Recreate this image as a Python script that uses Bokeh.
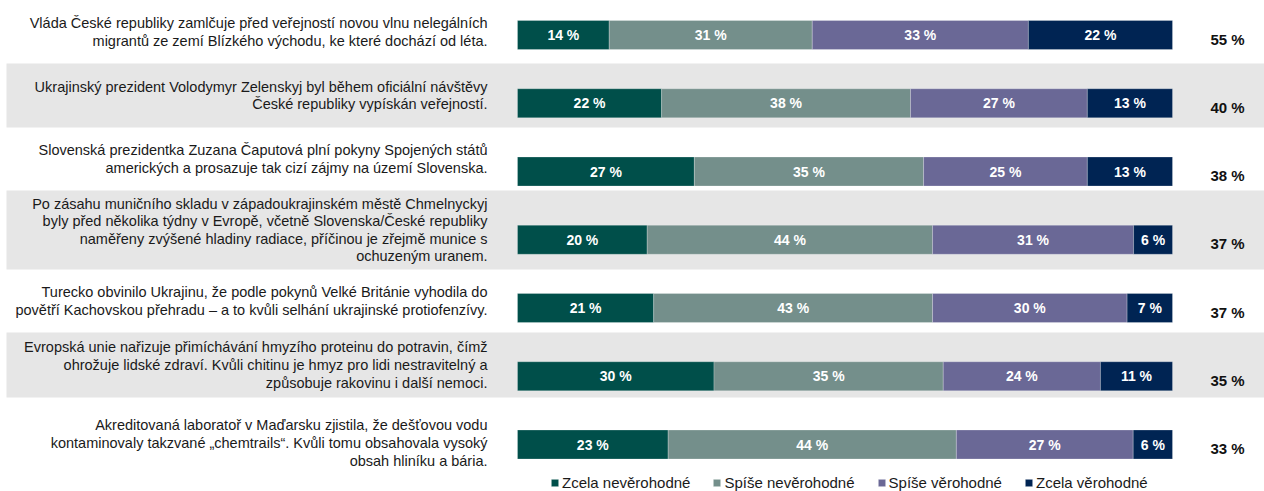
from bokeh.plotting import figure
from bokeh.models import Range1d, Legend, LegendItem
from bokeh.core.properties import value
from bokeh.embed import file_html
from bokeh.resources import INLINE

# ---------------- data ----------------
statements = [
    "Vláda České republiky zamlčuje před veřejností novou vlnu nelegálních\nmigrantů ze zemí Blízkého východu, ke které dochází od léta.",
    "Ukrajinský prezident Volodymyr Zelenskyj byl během oficiální návštěvy\nČeské republiky vypískán veřejností.",
    "Slovenská prezidentka Zuzana Čaputová plní pokyny Spojených států\namerických a prosazuje tak cizí zájmy na území Slovenska.",
    "Po zásahu muničního skladu v západoukrajinském městě Chmelnyckyj\nbyly před několika týdny v Evropě, včetně Slovenska/České republiky\nnaměřeny zvýšené hladiny radiace, příčinou je zřejmě munice s\nochuzeným uranem.",
    "Turecko obvinilo Ukrajinu, že podle pokynů Velké Británie vyhodila do\npovětří Kachovskou přehradu – a to kvůli selhání ukrajinské protiofenzívy.",
    "Evropská unie nařizuje přimíchávání hmyzího proteinu do potravin, čímž\nohrožuje lidské zdraví. Kvůli chitinu je hmyz pro lidi nestravitelný a\nzpůsobuje rakovinu i další nemoci.",
    "Akreditovaná laboratoř v Maďarsku zjistila, že dešťovou vodu\nkontaminovaly takzvané „chemtrails“. Kvůli tomu obsahovala vysoký\nobsah hliníku a bária.",
]
categories = ["Zcela nevěrohodné", "Spíše nevěrohodné", "Spíše věrohodné", "Zcela věrohodné"]
zcela_neverohodne = [14, 22, 27, 20, 21, 30, 23]
spise_neverohodne = [31, 38, 35, 44, 43, 35, 44]
spise_verohodne = [33, 27, 25, 31, 30, 24, 27]
zcela_verohodne = [22, 13, 13, 6, 7, 11, 6]
celkem_verohodne = [55, 40, 38, 37, 37, 35, 33]

series = [zcela_neverohodne, spise_neverohodne, spise_verohodne, zcela_verohodne]
colors = ["#004F4A", "#748F8B", "#6A6896", "#002453"]

# ---------------- layout constants ----------------
W, H = 1264, 491
PX_PER_PCT = 6.55          # horizontal scale
BAR_LEFT = 517             # pixel where bars start
ROW_PX = 68.25             # vertical spacing of the bars
ROW0_PX = 34.5             # pixel of first bar centre
BAND_PX = [63, 64, 63, 79, 63, 65, 91]   # heights of the table cells
BAR_H = 29 / ROW_PX

x_start = -BAR_LEFT / PX_PER_PCT
x_end = (W - BAR_LEFT) / PX_PER_PCT
y_top = -ROW0_PX / ROW_PX
y_bot = (H - ROW0_PX) / ROW_PX


def px2x(px):
    return (px - BAR_LEFT) / PX_PER_PCT


def px2y(px_from_top):
    return (px_from_top - ROW0_PX) / ROW_PX


p = figure(width=W, height=H, x_range=Range1d(x_start, x_end), y_range=Range1d(y_bot, y_top),
           output_backend="svg", toolbar_location=None, x_axis_type=None, y_axis_type=None,
           min_border=0, outline_line_color=None, background_fill_color="white")
p.grid.visible = False

# table cell bands
n = len(statements)
tops, bots, centers = [], [], []
acc = 0
for h in BAND_PX:
    tops.append(px2y(acc))
    bots.append(px2y(acc + h))
    centers.append(px2y(acc + h / 2))
    acc += h
band_idx = [i for i in range(n) if i % 2 == 1]
p.quad(left=px2x(6), right=x_end, top=[tops[i] for i in band_idx], bottom=[bots[i] for i in band_idx],
       fill_color="#E6E6E6", line_color=None)

# stacked bars
rows = list(range(n))
totals = [sum(s[i] for s in series) for i in rows]
lefts = [0.0] * n
renderers = []
lab_x, lab_y, lab_t = [], [], []
for s, c in zip(series, colors):
    widths = [s[i] * 100.0 / totals[i] for i in rows]
    rights = [lefts[i] + widths[i] for i in rows]
    r = p.hbar(y=rows, left=lefts, right=rights, height=BAR_H, fill_color=c,
               line_color="white", line_width=0.4, line_alpha=0.6)
    renderers.append(r)
    for i in rows:
        lab_x.append(lefts[i] + widths[i] / 2)
        lab_y.append(i)
        lab_t.append(f"{s[i]} %")
    lefts = rights

p.text(x=lab_x, y=lab_y, text=lab_t, text_align="center", text_baseline="middle",
       text_color="white", text_font=value("Liberation Sans"), text_font_style="bold",
       text_font_size="14px")

# statements
p.text(x=px2x(487), y=centers, text=statements, text_align="right", text_baseline="middle",
       text_color="#1A1A1A", text_font=value("Liberation Sans"), text_font_size="14.5px",
       text_line_height=1.1)

# sums
p.text(x=[100 + 55 / PX_PER_PCT] * n, y=rows, text=[f"{v} %" for v in celkem_verohodne],
       text_align="center", text_baseline="middle", y_offset=4,
       text_color="#111111", text_font=value("Liberation Sans"), text_font_style="bold",
       text_font_size="15px")

legend = Legend(items=[LegendItem(label=c, renderers=[r]) for c, r in zip(categories, renderers)],
                orientation="horizontal", location=(550, 0), padding=0, margin=0, spacing=22,
                glyph_width=9, glyph_height=9, label_standoff=3, label_height=13,
                label_text_font="Liberation Sans", label_text_font_size="15px",
                label_text_color="#1A1A1A", border_line_color=None, background_fill_alpha=0)
p.add_layout(legend)

open("out.html", "w").write(file_html(p, INLINE))
